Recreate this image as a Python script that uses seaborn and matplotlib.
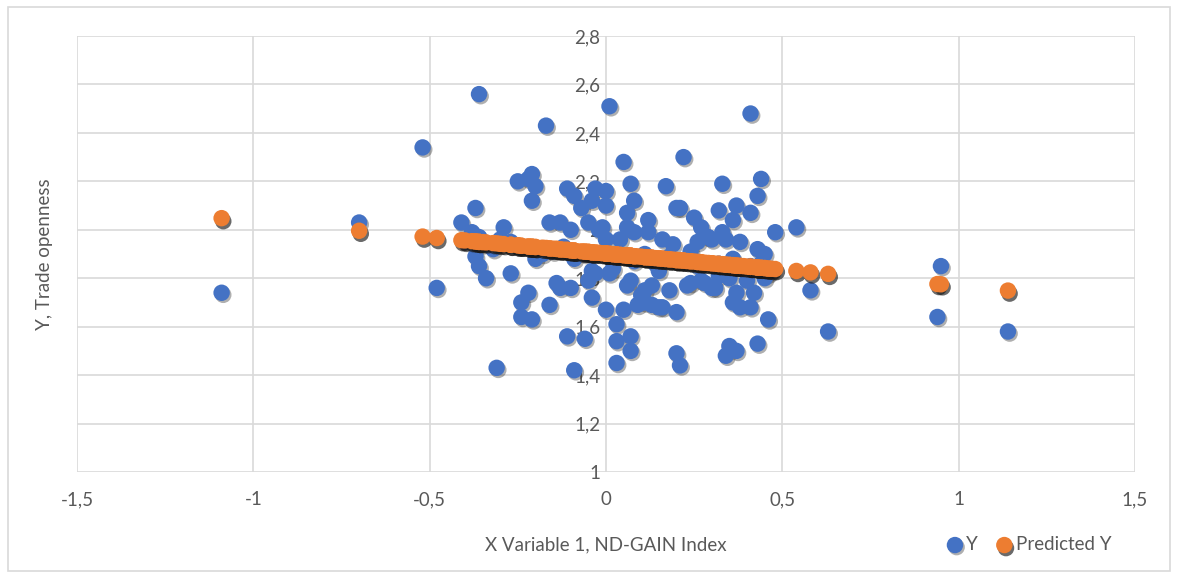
import matplotlib
matplotlib.use("Agg")
import matplotlib.pyplot as plt
import matplotlib.patheffects as pe
from matplotlib.patches import Rectangle
from matplotlib.ticker import MultipleLocator, FuncFormatter
import seaborn as sns
import pandas as pd

# X Variable 1 (ND-GAIN Index), Y (Trade openness), Predicted Y
x_index = [
    -1.09, -0.70, -0.52, -0.48, -0.36, -0.17, 0.01, 0.41, 0.54, 0.58, 0.63, 0.94, 0.95, 1.14,
    -0.41, -0.37, -0.29, -0.38, -0.37, -0.36, -0.34, -0.27, -0.22, -0.24, -0.16, -0.25, -0.21,
    -0.20, -0.21, -0.16, -0.13, -0.20, -0.13, -0.10, -0.04, -0.07, -0.03, -0.09, -0.04, -0.10,
    -0.05, -0.04, -0.05, -0.02, -0.14, -0.24, -0.21, -0.31, -0.22, -0.14, -0.11, 0.00, 0.00, -0.01,
    -0.03, 0.01, 0.06, 0.00, 0.05, 0.09, 0.13, 0.16, 0.10, 0.13, 0.18, 0.20, 0.03, 0.03, 0.07,
    0.07, 0.03, -0.11, -0.06, -0.09, 0.20, 0.21, 0.23, 0.27, 0.31, 0.35, 0.40, 0.37, 0.42, 0.38,
    0.46, 0.35, 0.37, 0.34, 0.43,
    0.05, 0.07, 0.17, 0.22, 0.20, 0.08, 0.06, 0.12, 0.06, 0.08, 0.12, 0.16, 0.04, 0.00, 0.33,
    0.44, 0.43, 0.21, 0.32, 0.37, 0.41, 0.25, 0.27, 0.36, 0.33, 0.48, 0.26, 0.30, 0.38, 0.34,
    0.24, 0.29, 0.19, 0.43, 0.45,
    0.02, 0.07, 0.11, 0.15, 0.24, 0.28, 0.30, 0.32, 0.45, 0.11, 0.15, 0.36, 0.41,
    -0.40, -0.36, -0.35, -0.32, -0.30, -0.27, -0.25, -0.18, -0.15, -0.12, -0.09, -0.06, 0.02,
    0.08, 0.11, 0.14, 0.18, 0.22, 0.26, 0.32, 0.36, 0.39, 0.41, 0.44, 0.46, 0.47,
]
y_trade = [
    1.74, 2.03, 2.34, 1.76, 2.56, 2.43, 2.51, 2.48, 2.01, 1.75, 1.58, 1.64, 1.85, 1.58,
    2.03, 2.09, 2.01, 1.99, 1.89, 1.85, 1.80, 1.82, 1.74, 1.70, 1.69, 2.20, 2.23,
    2.18, 2.12, 2.03, 2.03, 1.88, 1.76, 1.76, 1.72, 2.09, 2.17, 2.14, 2.12, 2.00,
    2.03, 1.83, 1.79, 2.00, 1.92, 1.64, 1.63, 1.43, 2.21, 1.78, 2.17, 2.16, 2.10, 2.01,
    1.82, 1.82, 1.77, 1.67, 1.67, 1.69, 1.69, 1.68, 1.73, 1.77, 1.75, 1.66, 1.61, 1.54, 1.56,
    1.50, 1.45, 1.56, 1.55, 1.42, 1.49, 1.44, 1.77, 1.79, 1.76, 1.80, 1.79, 1.74, 1.74, 1.68,
    1.63, 1.52, 1.50, 1.48, 1.53,
    2.28, 2.19, 2.18, 2.30, 2.09, 2.12, 2.07, 2.04, 2.01, 1.99, 1.99, 1.96, 1.96, 1.96, 2.19,
    2.21, 2.14, 2.09, 2.08, 2.10, 2.07, 2.05, 2.01, 2.04, 1.99, 1.99, 1.95, 1.96, 1.95, 1.96,
    1.91, 1.97, 1.94, 1.92, 1.90,
    1.84, 1.79, 1.75, 1.83, 1.78, 1.78, 1.76, 1.81, 1.80, 1.70, 1.68, 1.70, 1.68,
    1.95, 1.97, 1.94, 1.92, 1.96, 1.95, 1.93, 1.90, 1.91, 1.93, 1.88, 1.90, 1.88,
    1.87, 1.90, 1.86, 1.89, 1.87, 1.85, 1.86, 1.88, 1.84, 1.85, 1.86, 1.82, 1.83,
]
y_pred = [
    2.048, 1.996, 1.972, 1.966, 1.950, 1.925, 1.901, 1.847, 1.830, 1.824, 1.818, 1.776, 1.775, 1.749,
    1.957, 1.952, 1.941, 1.953, 1.952, 1.950, 1.948, 1.938, 1.931, 1.934, 1.923, 1.936, 1.930,
    1.929, 1.930, 1.923, 1.919, 1.929, 1.919, 1.915, 1.907, 1.911, 1.906, 1.914, 1.907, 1.915,
    1.909, 1.907, 1.909, 1.905, 1.921, 1.934, 1.930, 1.944, 1.931, 1.921, 1.917, 1.902, 1.902, 1.903,
    1.906, 1.901, 1.894, 1.902, 1.895, 1.890, 1.885, 1.881, 1.889, 1.885, 1.878, 1.875, 1.898, 1.898, 1.893,
    1.893, 1.898, 1.917, 1.910, 1.914, 1.875, 1.874, 1.871, 1.866, 1.860, 1.855, 1.848, 1.852, 1.846, 1.851,
    1.840, 1.855, 1.852, 1.856, 1.844,
    1.895, 1.893, 1.879, 1.873, 1.875, 1.891, 1.894, 1.886, 1.894, 1.891, 1.886, 1.881, 1.897, 1.902, 1.858,
    1.843, 1.844, 1.874, 1.859, 1.852, 1.847, 1.869, 1.866, 1.854, 1.858, 1.838, 1.867, 1.862, 1.851, 1.856,
    1.870, 1.863, 1.877, 1.844, 1.842,
    1.899, 1.893, 1.887, 1.882, 1.870, 1.864, 1.862, 1.859, 1.842, 1.887, 1.882, 1.854, 1.847,
    1.956, 1.950, 1.949, 1.945, 1.942, 1.938, 1.936, 1.926, 1.922, 1.918, 1.914, 1.910, 1.899,
    1.891, 1.887, 1.883, 1.878, 1.873, 1.867, 1.859, 1.854, 1.850, 1.847, 1.843, 1.840, 1.839,
]

df = pd.DataFrame({"x": x_index, "y": y_trade, "pred": y_pred})

sns.set_theme(style="white")
plt.rcParams["font.family"] = ["Lato", "DejaVu Sans"]
txt = "#595959"
grid = "#d9d9d9"

fig = plt.figure(figsize=(11.78, 5.78), dpi=100)
ax = fig.add_axes([0.0654, 0.1834, 0.898, 0.7543])

blue = "#4472c4"
orange = "#ed7d31"
sns.scatterplot(data=df, x="x", y="y", color=blue, s=140, linewidth=0,
                label="Y", ax=ax, zorder=3)
ax.collections[-1].set_path_effects([
    pe.SimplePatchShadow(offset=(1.2, -1.5), shadow_rgbFace="k", alpha=0.35), pe.Normal()])
sns.scatterplot(data=df, x="x", y="pred", color=orange, s=140, linewidth=0,
                label="Predicted Y", ax=ax, zorder=4)
ax.collections[-1].set_path_effects([
    pe.SimplePatchShadow(offset=(1.2, -2.2), shadow_rgbFace="k", alpha=0.65), pe.Normal()])

ax.set_xlim(-1.5, 1.5)
ax.set_ylim(1.0, 2.8)
ax.xaxis.set_major_locator(MultipleLocator(0.5))
ax.yaxis.set_major_locator(MultipleLocator(0.2))
fmt = FuncFormatter(lambda v, p: f"{round(v, 2):g}".replace(".", ","))
ax.xaxis.set_major_formatter(fmt)
ax.yaxis.set_major_formatter(fmt)

ax.grid(True, color=grid, linewidth=1.2, zorder=0)
ax.set_axisbelow(True)
for side in ["top", "right", "bottom"]:
    ax.spines[side].set_visible(False)
ax.spines["left"].set_position(("data", 0))
ax.spines["left"].set_color("none")

ax.tick_params(axis="x", length=0, pad=14, labelsize=13.5, labelcolor=txt)
ax.tick_params(axis="y", length=0, pad=4, labelsize=13.5, labelcolor=txt)

ax.set_xlabel("")
ax.set_ylabel("")
fig.text(0.514, 0.058, "X Variable 1, ND-GAIN Index", ha="center", va="center",
         fontsize=13.5, color=txt)
fig.text(0.038, 0.56, "Y, Trade openness", ha="center", va="center",
         rotation=90, fontsize=13.5, color=txt)

ax.legend(loc="center", bbox_to_anchor=(0.873, 0.058), bbox_transform=fig.transFigure,
          ncol=2, frameon=False, fontsize=13.5, labelcolor=txt, handletextpad=0.1,
          handlelength=1.0, columnspacing=0.9, markerscale=1.0, borderaxespad=0)

fig.patches.append(Rectangle((0.007, 0.012), 0.986, 0.976, transform=fig.transFigure,
                             fill=False, edgecolor=grid, linewidth=1.2))

fig.savefig("out.png", dpi=100)
